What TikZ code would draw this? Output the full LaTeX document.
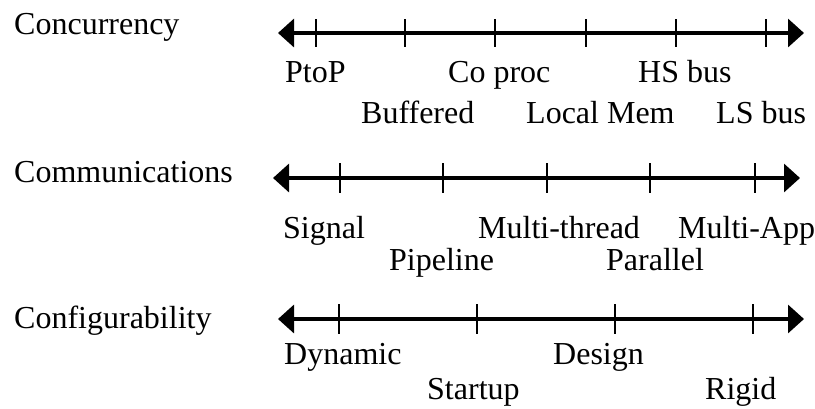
\documentclass[tikz,border=0pt]{standalone}
\usepackage{fontspec}
\setmainfont{Liberation Serif}
\usetikzlibrary{arrows.meta}
\begin{document}
\begin{tikzpicture}[x=1pt,y=-1pt,
  lbl/.style={anchor=base west,inner sep=0pt,font=\fontsize{32}{36}\selectfont},
  axisline/.style={line width=3.3pt,{Triangle[length=16pt,width=28pt]}-{Triangle[length=16pt,width=28pt]}},
  tickmark/.style={line width=2.5pt}]
\useasboundingbox (0,0) rectangle (815,408);
% left titles
\node[lbl] (t1) at (14,34) {Concurrency};
\node[lbl] (t2) at (14,182) {Communications};
\node[lbl] (t3) at (14,328) {Configurability};
% axis 1
\coordinate (a1l) at (278,33);
\coordinate (a1r) at (804,33);
\draw[axisline] (a1l) -- (a1r);
\foreach \x [count=\i] in {316,405,495,586,676,766}{
  \coordinate (k1\i) at (\x,33);
  \draw[tickmark] ([yshift=14pt]k1\i) -- ([yshift=-14pt]k1\i);
}
\node[lbl] (l11) at (285,82) {PtoP};
\node[lbl] (l12) at (361,123) {Buffered};
\node[lbl] (l13) at (448,82) {Co proc};
\node[lbl] (l14) at (526,123) {Local Mem};
\node[lbl] (l15) at (638,82) {HS bus};
\node[lbl] (l16) at (716,123) {LS bus};
% axis 2
\coordinate (a2l) at (273,178);
\coordinate (a2r) at (800,178);
\draw[axisline] (a2l) -- (a2r);
\foreach \x [count=\i] in {340,443,547,650,755}{
  \coordinate (k2\i) at (\x,178);
  \draw[tickmark] ([yshift=15pt]k2\i) -- ([yshift=-15pt]k2\i);
}
\node[lbl] (l21) at (283,238) {Signal};
\node[lbl] (l22) at (389,270) {Pipeline};
\node[lbl] (l23) at (478,238) {Multi-thread};
\node[lbl] (l24) at (606,270) {Parallel};
\node[lbl] (l25) at (678,238) {Multi-App};
% axis 3
\coordinate (a3l) at (278,319);
\coordinate (a3r) at (804,319);
\draw[axisline] (a3l) -- (a3r);
\foreach \x [count=\i] in {339,477,615,753}{
  \coordinate (k3\i) at (\x,319);
  \draw[tickmark] ([yshift=15pt]k3\i) -- ([yshift=-15pt]k3\i);
}
\node[lbl] (l31) at (284,364) {Dynamic};
\node[lbl] (l32) at (427,399) {Startup};
\node[lbl] (l33) at (553,364) {Design};
\node[lbl] (l34) at (705,399) {Rigid};
\end{tikzpicture}
\end{document}
